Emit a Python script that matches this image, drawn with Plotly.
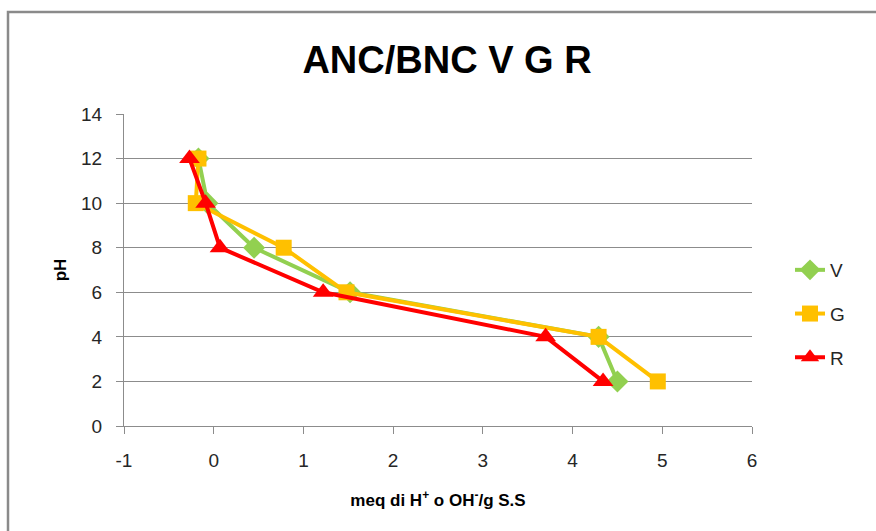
import plotly.graph_objects as go

# pH steps of the titration and the meq of H+ / OH- per g of dry solids
ph = [12, 10, 8, 6, 4, 2]
meq_v = [-0.17, -0.07, 0.45, 1.52, 4.29, 4.50]
meq_g = [-0.17, -0.20, 0.78, 1.48, 4.29, 4.95]
meq_r = [-0.27, -0.09, 0.07, 1.22, 3.70, 4.34]

x_ticks = [-1, 0, 1, 2, 3, 4, 5, 6]
x_tick_labels = ["-1", "0", "1", "2", "3", "4", "5", "6"]
y_ticks = [0, 2, 4, 6, 8, 10, 12, 14]

series = [
    ("V", meq_v, "#92D050", "diamond", 17),
    ("G", meq_g, "#FFC000", "square", 16),
    ("R", meq_r, "#FF0000", "triangle-up", 18),
]

W, H = 876, 531
L, R, T, B = 124, 124, 114, 105

fig = go.Figure()
for name, xs, color, symbol, size in series:
    fig.add_trace(go.Scatter(
        x=xs, y=ph, name=name, legendgroup=name, mode="lines+markers",
        line=dict(color=color, width=4),
        marker=dict(symbol=symbol, size=size, color=color, line=dict(width=0)),
    ))

tick_font = dict(family="Liberation Sans, Arial, sans-serif", size=19, color="#262626")
axis_title_font = dict(family="Liberation Sans, sans-serif", size=17, color="#000000")

fig.update_layout(
    width=W, height=H,
    margin=dict(l=L, r=R, t=T, b=B),
    paper_bgcolor="white", plot_bgcolor="white",
    title=dict(
        text="<b>ANC/BNC V G R</b>",
        x=447 / W, xanchor="center",
        y=1 - 60 / H, yanchor="middle",
        font=dict(family="Liberation Sans, sans-serif", size=38, color="#000000"),
    ),
    xaxis=dict(
        range=[-1, 6], tickmode="array", tickvals=x_ticks, ticktext=x_tick_labels,
        showgrid=False, zeroline=False,
        showline=True, linecolor="#8c8c8c", linewidth=1,
        ticks="outside", ticklen=7, tickcolor="#8c8c8c",
        tickfont=tick_font, ticklabelstandoff=10,
        title=dict(text="<b>meq di H<sup>+</sup> o OH<sup>-</sup>/g S.S</b>", font=axis_title_font, standoff=24),
    ),
    yaxis=dict(
        range=[0, 14], tickmode="array", tickvals=y_ticks,
        showgrid=True, gridcolor="#8c8c8c", gridwidth=1,
        zeroline=False,
        showline=True, linecolor="#8c8c8c", linewidth=1,
        ticks="outside", ticklen=7, tickcolor="#8c8c8c",
        tickfont=tick_font, ticklabelstandoff=10,
        title=dict(text="<b>pH</b>", font=axis_title_font, standoff=10),
    ),
    legend=dict(
        x=(790 - L) / (W - L - R), xanchor="left",
        y=1 - (251 - T) / (H - T - B), yanchor="top",
        font=dict(family="Liberation Sans, Arial, sans-serif", size=19, color="#262626"),
        tracegroupgap=16, bgcolor="rgba(0,0,0,0)",
    ),
    showlegend=True,
)

# outer chart frame (left and top edges visible within the page)
pw, ph_px = W - L - R, H - T - B
def px_x(p):
    return (p - L) / pw
def px_y(p):
    return 1 - (p - T) / ph_px

fig.add_shape(type="rect", xref="paper", yref="paper",
              x0=px_x(8), x1=px_x(W + 20), y0=px_y(H + 20), y1=px_y(12),
              line=dict(color="#8a8a8a", width=2.5), fillcolor="rgba(0,0,0,0)", layer="below")

fig.write_html("out.html")
